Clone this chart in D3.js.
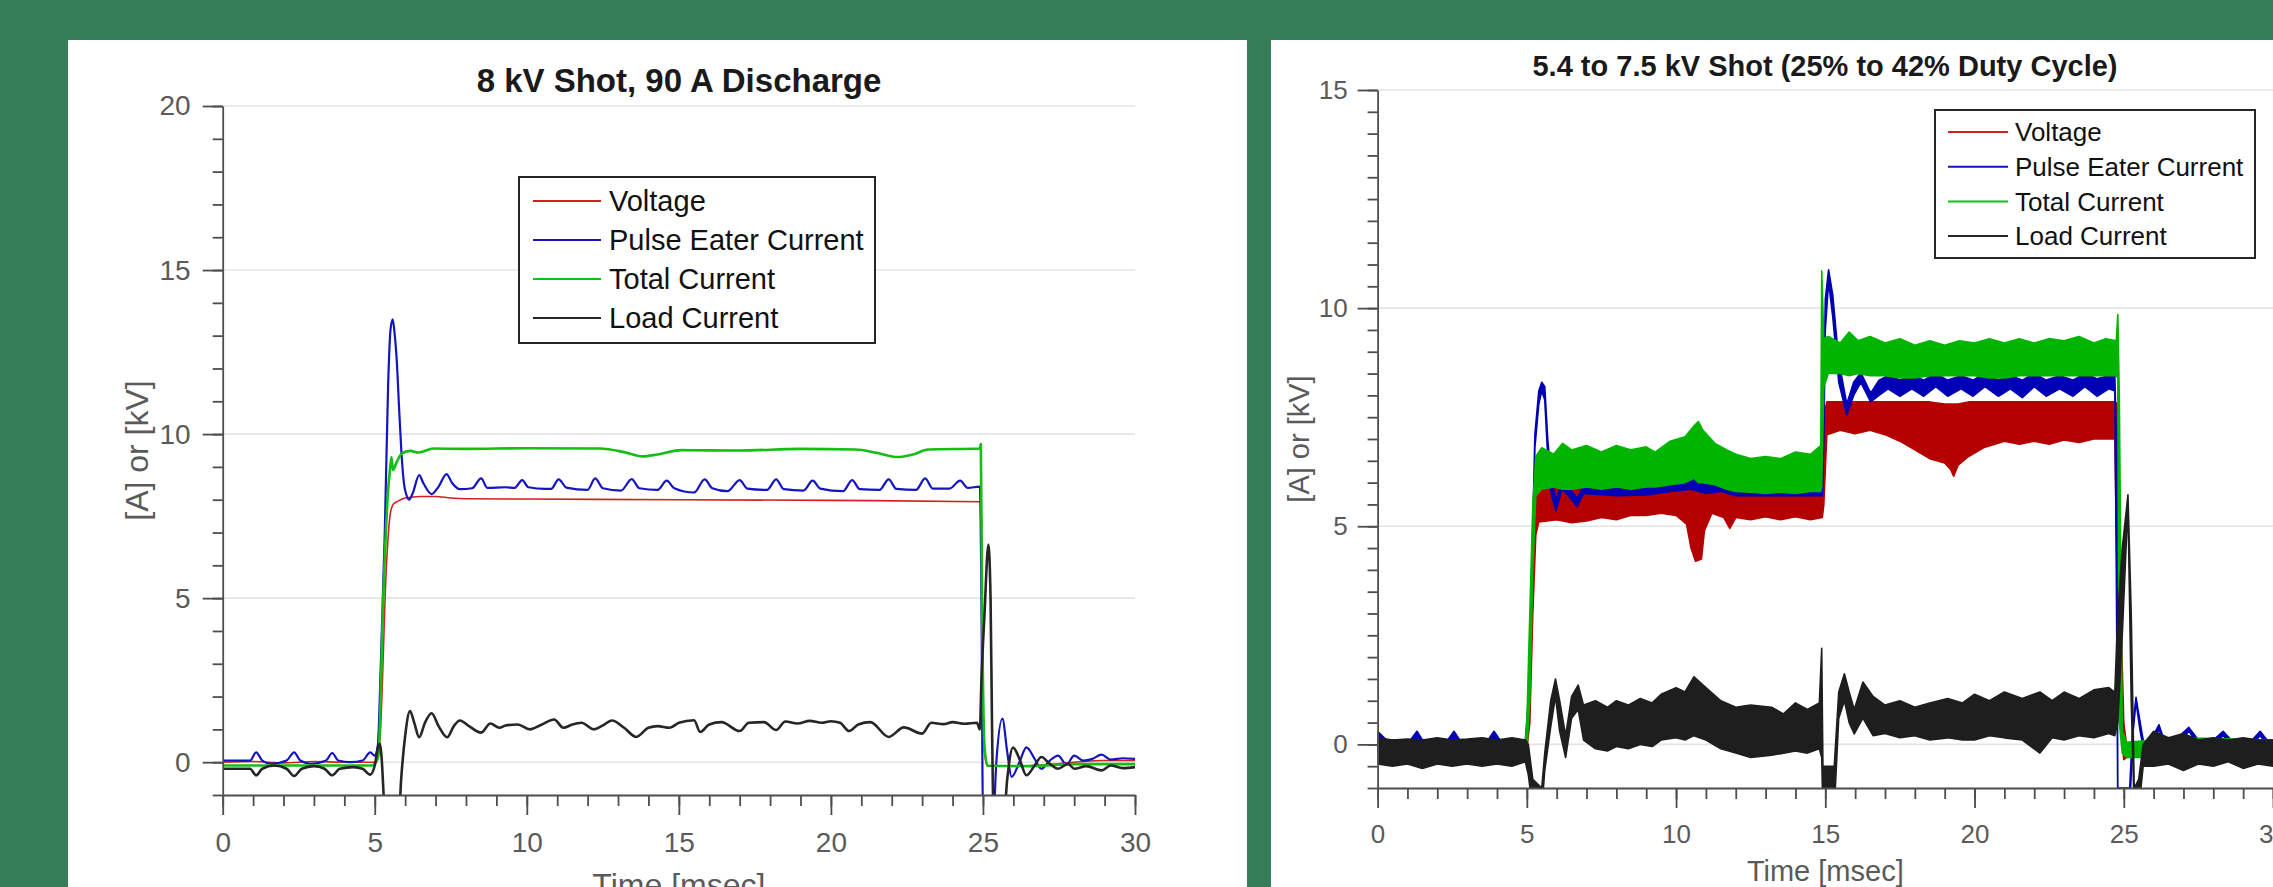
<!DOCTYPE html>
<html>
<head>
<meta charset="utf-8">
<script src="https://cdnjs.cloudflare.com/ajax/libs/d3/7.8.5/d3.min.js"></script>
<style>
    body { margin: 0; background: #357e59; overflow: hidden; }
    svg text { font-family: "Liberation Sans", Arial, sans-serif; }
</style>
</head>
<body>
<script>
// series names / colours shared by both panels
let seriesNames = ["Voltage", "Pulse Eater Current", "Total Current", "Load Current"];
let lineColors = ["#d42020", "#1414c0", "#14bf14", "#262626"];
let bandColors = ["#b40000", "#0000b4", "#00b400", "#1e1e1e"];

let xTicks = [0, 5, 10, 15, 20, 25, 30];
let leftYTicks = [0, 5, 10, 15, 20];
let rightYTicks = [0, 5, 10, 15];

// ---- left panel: 8 kV shot, [time ms, value] ----
let leftVoltage = [[0,0],[1,0.02],[2,-0.02],[3,0.02],[4,0],[5.0,0.0],[5.1,0.2],[5.17,0.7],[5.39,6.1],[5.5,7.5],[5.6,7.85],[5.75,7.95],[6.0,8.05],[6.5,8.1],[7.0,8.1],[7.5,8.05],[8,8.03],[10,8.02],[15,8.0],[20,7.98],[24.9,7.94],[24.95,7.5],[25.0,2.0],[25.05,0.3],[25.15,-0.12],[26,-0.12],[27,-0.08],[28,0.0],[29,0.05],[30,0.05]];

let leftPulse = [[0,0.05],[0.9,0.05],[1.1,0.3],[1.3,0.05],[1.6,-0.05],[2.1,0.05],[2.35,0.3],[2.55,0.05],[2.9,-0.05],[3.4,0.05],[3.6,0.28],[3.8,0.05],[4.2,0.0],[4.6,0.05],[4.85,0.3],[5.0,0.2],[5.1,0.5],[5.2,3.0],[5.33,7.0],[5.44,11.5],[5.52,13.2],[5.59,13.5],[5.66,13.0],[5.72,12.3],[5.8,10.8],[5.88,9.4],[5.96,8.5],[6.04,8.15],[6.13,8.0],[6.25,8.2],[6.46,8.75],[6.6,8.5],[6.87,8.17],[7.1,8.4],[7.36,8.78],[7.55,8.5],[7.8,8.32],[8.2,8.35],[8.5,8.65],[8.7,8.36],[9.3,8.38],[9.6,8.36],[9.85,8.6],[10.05,8.38],[10.6,8.33],[10.8,8.33],[11.05,8.62],[11.3,8.37],[12.0,8.3],[12.25,8.65],[12.5,8.35],[13.1,8.28],[13.45,8.63],[13.7,8.35],[14.3,8.3],[14.6,8.58],[14.85,8.35],[15.5,8.22],[15.85,8.62],[16.1,8.35],[16.6,8.26],[17.0,8.6],[17.25,8.34],[17.9,8.3],[18.2,8.62],[18.45,8.32],[19.1,8.28],[19.4,8.58],[19.65,8.34],[20.4,8.26],[20.7,8.6],[20.95,8.32],[21.6,8.3],[21.9,8.62],[22.15,8.33],[22.8,8.3],[23.1,8.65],[23.35,8.34],[23.9,8.34],[24.25,8.58],[24.5,8.36],[24.9,8.4],[24.95,5],[25.0,-1.5],[25.35,-1.5],[25.44,0],[25.64,1.33],[25.8,0.3],[25.94,-0.45],[26.2,0],[26.43,0.45],[26.7,0.1],[26.92,-0.2],[27.2,0.05],[27.47,0.2],[27.75,-0.07],[28.0,0.2],[28.3,0.05],[28.6,0.1],[28.9,0.23],[29.2,0.08],[29.6,0.12],[30,0.1]];

let leftTotal = [[0,-0.1],[4.9,-0.1],[5.0,-0.05],[5.12,0.2],[5.28,5.0],[5.44,8.3],[5.5,8.9],[5.55,9.3],[5.6,8.9],[5.7,9.1],[5.88,9.4],[6.16,9.49],[6.44,9.44],[6.93,9.56],[8,9.55],[10,9.57],[12.4,9.56],[13.2,9.45],[13.8,9.32],[14.3,9.38],[15.1,9.51],[17,9.5],[19,9.55],[20.8,9.53],[21.5,9.43],[22.2,9.3],[22.7,9.38],[23.2,9.53],[24.9,9.56],[24.93,9.7],[24.97,5],[25.05,0.5],[25.15,-0.1],[26.5,-0.12],[28,-0.06],[30,-0.06]];

let leftLoad = [[0,-0.2],[0.9,-0.2],[1.1,-0.4],[1.3,-0.2],[1.7,-0.1],[2.1,-0.2],[2.35,-0.42],[2.6,-0.2],[3.0,-0.12],[3.35,-0.2],[3.6,-0.4],[3.85,-0.2],[4.3,-0.15],[4.6,-0.2],[4.85,-0.38],[5.0,-0.1],[5.12,0.5],[5.17,0.56],[5.22,0.2],[5.34,-1.5],[5.8,-1.5],[5.87,-0.5],[6.0,0.8],[6.16,1.56],[6.3,1.2],[6.46,0.76],[6.65,1.2],[6.87,1.49],[7.1,1.1],[7.38,0.76],[7.6,1.1],[7.8,1.27],[8.1,1.1],[8.5,0.9],[8.8,1.18],[9.1,1.05],[9.3,1.12],[9.7,1.15],[10.1,1.0],[10.5,1.15],[10.9,1.3],[11.2,1.05],[11.5,1.15],[11.8,1.2],[12.2,1.0],[12.5,1.12],[12.8,1.27],[13.2,1.05],[13.6,0.77],[14.0,1.05],[14.3,1.1],[14.7,1.05],[15.0,1.2],[15.5,1.28],[15.7,0.92],[16.0,1.15],[16.4,1.22],[17.0,0.95],[17.3,1.2],[17.8,1.22],[18.2,0.98],[18.5,1.24],[18.9,1.18],[19.3,1.26],[19.7,1.2],[20.0,1.25],[20.3,1.2],[20.6,0.95],[20.9,1.15],[21.3,1.22],[21.9,0.77],[22.4,1.06],[23.0,0.87],[23.3,1.2],[23.7,1.16],[24,1.22],[24.4,1.17],[24.8,1.2],[24.9,1.0],[24.95,2.5],[25.05,4.5],[25.18,6.63],[25.25,5],[25.3,1],[25.35,-1.5],[25.7,-1.5],[25.8,-0.5],[25.99,0.45],[26.2,0.1],[26.43,-0.4],[26.7,-0.1],[26.92,0.16],[27.2,-0.05],[27.47,-0.2],[27.8,-0.05],[28.0,-0.2],[28.4,-0.12],[28.9,-0.25],[29.2,-0.1],[29.6,-0.18],[30,-0.15]];

// ---- right panel: 5.4 to 7.5 kV shot, noisy traces as [time ms, low, high] ----
let rightVoltage = [[0,-0.15,0.1],[4.95,-0.15,0.1],[5.0,-0.1,0.2],[5.1,0.5,2.0],[5.2,3.0,4.5],[5.3,4.8,5.7],[5.4,5.1,5.85],[6,5.15,5.95],[6.5,5.08,5.9],[7,5.12,5.9],[7.5,5.2,5.9],[8,5.15,5.92],[8.5,5.25,5.92],[9,5.25,5.95],[9.5,5.3,5.95],[10,5.25,5.95],[10.35,5.05,5.95],[10.5,4.5,5.92],[10.65,4.2,5.9],[10.85,4.25,5.9],[10.95,4.9,5.95],[11.2,5.3,6.0],[11.6,5.2,5.95],[11.8,4.95,5.9],[12.0,5.2,5.85],[12.5,5.15,5.85],[13,5.22,5.85],[13.5,5.15,5.85],[14,5.22,5.85],[14.5,5.15,5.85],[14.9,5.2,5.85],[14.95,5.5,7.5],[15.05,7.1,7.85],[15.5,7.2,7.85],[16,7.12,7.85],[16.5,7.2,7.85],[17,7.1,7.85],[17.5,6.95,7.85],[18,6.75,7.85],[18.5,6.55,7.85],[19,6.45,7.8],[19.2,6.3,7.8],[19.3,6.15,7.8],[19.45,6.4,7.8],[19.8,6.6,7.85],[20.3,6.8,7.85],[21,6.95,7.85],[21.5,6.88,7.85],[22,6.95,7.85],[22.5,6.88,7.85],[23,6.98,7.85],[23.5,6.92,7.85],[24,7.0,7.85],[24.7,7.0,7.85],[24.8,3.0,7.8],[24.9,0.5,3.0],[25.0,-0.35,0.5],[25.1,-0.3,-0.05],[26,-0.25,0.0],[30,-0.15,0.05]];

let rightPulse = [[0,0.0,0.3],[0.3,0.0,0.1],[1.1,0.0,0.1],[1.32,0.0,0.3],[1.5,0.0,0.1],[2.35,0.0,0.1],[2.56,0.0,0.3],[2.75,0.0,0.1],[3.7,0.0,0.1],[3.9,0.0,0.3],[4.1,0.0,0.1],[4.95,0.0,0.1],[5.05,0.5,1.0],[5.15,3.0,3.5],[5.27,6.8,7.1],[5.4,7.8,8.1],[5.5,8.1,8.3],[5.6,7.9,8.2],[5.7,6.6,7.0],[5.8,5.8,6.2],[5.97,5.35,5.6],[6.18,5.85,6.0],[6.4,5.7,5.9],[6.68,5.45,5.65],[6.9,5.75,5.9],[8,5.7,5.9],[9,5.72,5.92],[9.8,5.8,6.05],[10.5,5.85,6.1],[11,5.75,6.05],[11.5,5.8,6.0],[12,5.7,5.9],[14.9,5.7,5.9],[14.95,7,8],[15.0,9.5,10.2],[15.11,10.6,10.88],[15.25,9.8,10.3],[15.45,8.3,8.8],[15.72,7.55,7.8],[15.95,8.0,8.3],[16.19,8.3,8.52],[16.52,7.85,8.05],[16.8,8.0,8.35],[17.1,8.15,8.45],[17.5,7.98,8.35],[17.9,8.15,8.45],[18.3,7.98,8.35],[18.7,8.2,8.5],[19.1,7.98,8.35],[19.55,8.15,8.45],[19.95,7.98,8.35],[20.35,8.2,8.5],[20.8,7.98,8.35],[21.2,8.15,8.45],[21.6,7.95,8.35],[22.0,8.2,8.5],[22.4,7.98,8.35],[22.85,8.15,8.45],[23.3,7.98,8.35],[23.7,8.2,8.5],[24.1,7.98,8.38],[24.5,8.15,8.45],[24.7,8.1,8.5],[24.75,4,7],[24.8,-1.5,-1.0],[25.2,-1.5,-1.0],[25.3,0.2,0.4],[25.41,0.98,1.08],[25.55,0.3,0.5],[25.74,-0.37,-0.25],[25.95,0,0.15],[26.18,0.35,0.45],[26.35,0,0.1],[26.5,-0.22,-0.1],[26.8,0.0,0.15],[27.18,0.3,0.39],[27.5,0.0,0.1],[28.0,0.0,0.1],[28.33,0.2,0.3],[28.6,0.0,0.1],[29.3,0.0,0.1],[29.57,0.2,0.3],[29.8,0.0,0.1],[30,0.0,0.1]];

let rightTotal = [[0,-0.15,0.05],[4.95,-0.15,0.05],[5.0,-0.1,0.5],[5.1,1.0,3.0],[5.2,4.0,5.5],[5.3,5.7,6.6],[5.5,5.85,6.8],[5.9,5.9,6.65],[6.2,5.85,6.9],[6.5,5.85,6.75],[7.0,5.9,6.85],[7.5,5.85,6.7],[8.0,5.9,6.85],[8.5,5.85,6.75],[9.0,5.9,6.82],[9.3,5.9,6.7],[9.8,5.95,6.95],[10.3,6.0,7.05],[10.6,6.1,7.3],[10.75,6.0,7.4],[10.9,6.0,7.2],[11.3,5.95,6.9],[11.7,5.85,6.75],[12.0,5.8,6.65],[12.5,5.78,6.55],[13.0,5.75,6.6],[13.5,5.78,6.55],[14.0,5.75,6.7],[14.5,5.8,6.65],[14.85,5.8,6.85],[14.88,5.9,10.85],[14.95,8.2,9.3],[15.1,8.5,9.35],[15.5,8.5,9.2],[15.8,8.45,9.45],[16.1,8.5,9.25],[16.5,8.45,9.35],[17,8.45,9.2],[17.5,8.4,9.3],[18,8.4,9.15],[18.5,8.45,9.25],[19,8.45,9.15],[19.5,8.45,9.25],[20,8.45,9.2],[20.5,8.4,9.3],[21,8.4,9.2],[21.5,8.45,9.3],[22,8.45,9.2],[22.5,8.45,9.3],[23,8.45,9.25],[23.5,8.45,9.35],[24,8.45,9.2],[24.4,8.45,9.3],[24.75,8.45,9.25],[24.8,8.4,9.85],[24.85,0.5,8.0],[24.95,-0.2,0.3],[25.1,-0.3,0.05],[26,-0.3,0.1],[27,-0.2,0.15],[30,-0.15,0.1]];

let rightLoad = [[0,-0.45,0.15],[0.5,-0.5,0.1],[1,-0.45,0.12],[1.5,-0.55,0.1],[2,-0.45,0.15],[2.5,-0.5,0.1],[3,-0.45,0.12],[3.5,-0.5,0.15],[4,-0.45,0.1],[4.5,-0.5,0.15],[4.95,-0.4,0.1],[5.05,-0.7,0.0],[5.2,-1.5,-0.8],[5.5,-1.5,-1.0],[5.6,-0.6,-0.2],[5.8,0.4,1.0],[5.96,1.1,1.5],[6.1,0.3,1.0],[6.3,-0.3,0.2],[6.5,0.6,1.1],[6.72,0.8,1.36],[6.9,0.1,0.9],[7.3,-0.1,1.0],[7.7,-0.15,0.85],[8,-0.05,1.0],[8.4,-0.1,0.9],[8.8,0.0,1.05],[9.2,-0.05,0.95],[9.5,0.1,1.15],[10,0.15,1.3],[10.3,0.1,1.2],[10.6,0.2,1.55],[11,0.1,1.3],[11.5,-0.1,1.0],[12.0,-0.2,0.85],[12.5,-0.3,0.9],[13.2,-0.25,0.85],[13.6,-0.2,0.7],[14,-0.15,0.95],[14.4,-0.2,0.8],[14.8,-0.1,0.95],[14.88,-0.3,2.2],[14.92,-1.5,-0.5],[15.3,-1.5,-0.5],[15.45,0.6,1.2],[15.64,1.0,1.62],[15.8,0.5,1.2],[15.97,0.24,0.8],[16.26,0.6,1.43],[16.6,0.2,1.1],[17.0,0.25,0.9],[17.5,0.15,1.0],[18.0,0.2,0.85],[18.5,0.1,0.95],[19.1,0.15,1.05],[19.6,0.1,0.95],[20,0.1,1.15],[20.5,0.2,1.0],[21,0.15,1.2],[21.6,0.1,1.05],[22.19,-0.2,1.2],[22.6,0.15,1.0],[23,0.1,1.2],[23.5,0.2,1.05],[24,0.15,1.25],[24.5,0.25,1.3],[24.7,0.2,1.2],[24.8,0.5,3.0],[24.95,2.5,4.5],[25.14,5.5,5.72],[25.25,1.0,3.0],[25.35,-1.5,-1.0],[25.5,-1.5,-0.8],[25.65,-0.5,0.0],[26,-0.5,0.3],[26.5,-0.45,0.15],[27,-0.6,0.25],[27.5,-0.45,0.1],[28,-0.5,0.15],[28.5,-0.4,0.1],[29,-0.55,0.15],[29.5,-0.45,0.1],[30,-0.5,0.1]];

let svg = d3.select("body").append("svg").attr("width", 2273).attr("height", 887);

function drawPanel(p) {
    let g = svg.append("g");
    g.append("rect")
        .attr("x", p.panel[0]).attr("y", p.panel[1])
        .attr("width", p.panel[2]).attr("height", p.panel[3])
        .attr("fill", "#fff");

    let x = d3.scaleLinear().domain([0, 30]).range([p.left, p.right]);
    let y = d3.scaleLinear().domain(p.yDomain).range([p.bottom, p.top]);

    // horizontal grid
    g.selectAll(".grid").data(p.yTicks).enter().append("line")
        .attr("x1", p.left).attr("x2", p.right)
        .attr("y1", (d) => y(d)).attr("y2", (d) => y(d))
        .attr("stroke", "#e4e4e4").attr("stroke-width", 1.6);

    g.append("clipPath").attr("id", p.id)
        .append("rect").attr("x", p.left).attr("y", p.top)
        .attr("width", p.right - p.left).attr("height", p.bottom - p.top);
    let plot = g.append("g").attr("clip-path", `url(#${p.id})`);

    if (p.kind === "line") {
        let line = d3.line().curve(d3.curveMonotoneX).x((d) => x(d[0])).y((d) => y(d[1]));
        p.series.forEach((s, i) => {
            plot.append("path").attr("d", line(s))
                .attr("fill", "none").attr("stroke", lineColors[i])
                .attr("stroke-width", p.widths[i]).attr("stroke-linejoin", "round");
        });
    } else {
        let area = d3.area().x((d) => x(d[0])).y0((d) => y(d[1])).y1((d) => y(d[2]));
        p.series.forEach((s, i) => {
            plot.append("path").attr("d", area(s))
                .attr("fill", bandColors[i]).attr("stroke", bandColors[i])
                .attr("stroke-width", 1.6).attr("stroke-linejoin", "round");
        });
    }

    // axes: minor ticks first, then major with labels
    let axisColor = "#4d4d4d";
    let xMinor = g.append("g").attr("transform", `translate(0,${p.bottom})`)
        .call(d3.axisBottom(x).tickValues(d3.range(0, 31, 1)).tickSize(11).tickFormat(""));
    let yMinor = g.append("g").attr("transform", `translate(${p.left},0)`)
        .call(d3.axisLeft(y).tickValues(d3.range(p.yDomain[0], p.yDomain[1] + 0.01, p.yMinorStep)).tickSize(10).tickFormat(""));
    let xAxis = g.append("g").attr("transform", `translate(0,${p.bottom})`)
        .call(d3.axisBottom(x).tickValues(xTicks).tickSize(20).tickSizeOuter(0).tickPadding(p.xPad));
    let yAxis = g.append("g").attr("transform", `translate(${p.left},0)`)
        .call(d3.axisLeft(y).tickValues(p.yTicks).tickSize(20).tickSizeOuter(0).tickPadding(p.yPad));
    [xMinor, yMinor].forEach((a) => a.select(".domain").remove());
    [xMinor, yMinor, xAxis, yAxis].forEach((a) => {
        a.attr("color", axisColor).attr("font-family", null).attr("font-size", p.tickFont);
        a.selectAll("line, path").attr("stroke-width", 1.8);
        a.selectAll("text").attr("fill", "#5a5a5a");
    });

    g.append("text").attr("x", p.titleX).attr("y", p.titleY)
        .attr("text-anchor", "middle").attr("font-weight", "bold")
        .attr("font-size", p.titleFont).attr("fill", "#1a1a1a").text(p.title);
    g.append("text").attr("x", (p.left + p.right) / 2).attr("y", p.xLabelY)
        .attr("text-anchor", "middle").attr("font-size", p.labelFont)
        .attr("fill", "#5a5a5a").text("Time [msec]");
    g.append("text")
        .attr("transform", `translate(${p.yLabelX},${(p.top + p.bottom) / 2}) rotate(-90)`)
        .attr("text-anchor", "middle").attr("font-size", p.labelFont)
        .attr("fill", "#5a5a5a").text("[A] or [kV]");

    // legend
    let L = p.legend;
    let lg = g.append("g");
    lg.append("rect").attr("x", L.x).attr("y", L.y).attr("width", L.w).attr("height", L.h)
        .attr("fill", "#fff").attr("stroke", "#262626").attr("stroke-width", 2);
    seriesNames.forEach((name, i) => {
        let ey = L.y + L.first + i * L.step;
        lg.append("line").attr("x1", L.x + L.lineX0).attr("x2", L.x + L.lineX1)
            .attr("y1", ey).attr("y2", ey)
            .attr("stroke", lineColors[i]).attr("stroke-width", 2);
        lg.append("text").attr("x", L.x + L.textX).attr("y", ey).attr("dy", "0.36em")
            .attr("font-size", L.font).attr("fill", "#111").text(name);
    });
}

drawPanel({
    id: "clipLeft", kind: "line",
    panel: [68, 40, 1179, 847],
    left: 222.7, right: 1135, top: 106, bottom: 795,
    yDomain: [-1, 20], yTicks: leftYTicks, yMinorStep: 1,
    series: [leftVoltage, leftPulse, leftTotal, leftLoad], widths: [1.6, 2.2, 2.6, 2.6],
    tickFont: 28, xPad: 17, yPad: 12,
    title: "8 kV Shot, 90 A Discharge", titleX: 679, titleY: 92, titleFont: 33,
    labelFont: 32, xLabelY: 896, yLabelX: 148,
    legend: {x: 519, y: 177, w: 356, h: 166, first: 24, step: 39, lineX0: 14, lineX1: 82, textX: 90, font: 29}
});

drawPanel({
    id: "clipRight", kind: "band",
    panel: [1271, 40, 1002, 847],
    left: 1377.6, right: 2273, top: 90, bottom: 788,
    yDomain: [-1, 15], yTicks: rightYTicks, yMinorStep: 0.5,
    series: [rightVoltage, rightPulse, rightTotal, rightLoad],
    tickFont: 26, xPad: 17, yPad: 10,
    title: "5.4 to 7.5 kV Shot (25% to 42% Duty Cycle)", titleX: 1825, titleY: 76, titleFont: 29,
    labelFont: 29, xLabelY: 881, yLabelX: 1309,
    legend: {x: 1935, y: 110, w: 320, h: 148, first: 22, step: 34.7, lineX0: 13, lineX1: 73, textX: 80, font: 26}
});
</script>
</body>
</html>
